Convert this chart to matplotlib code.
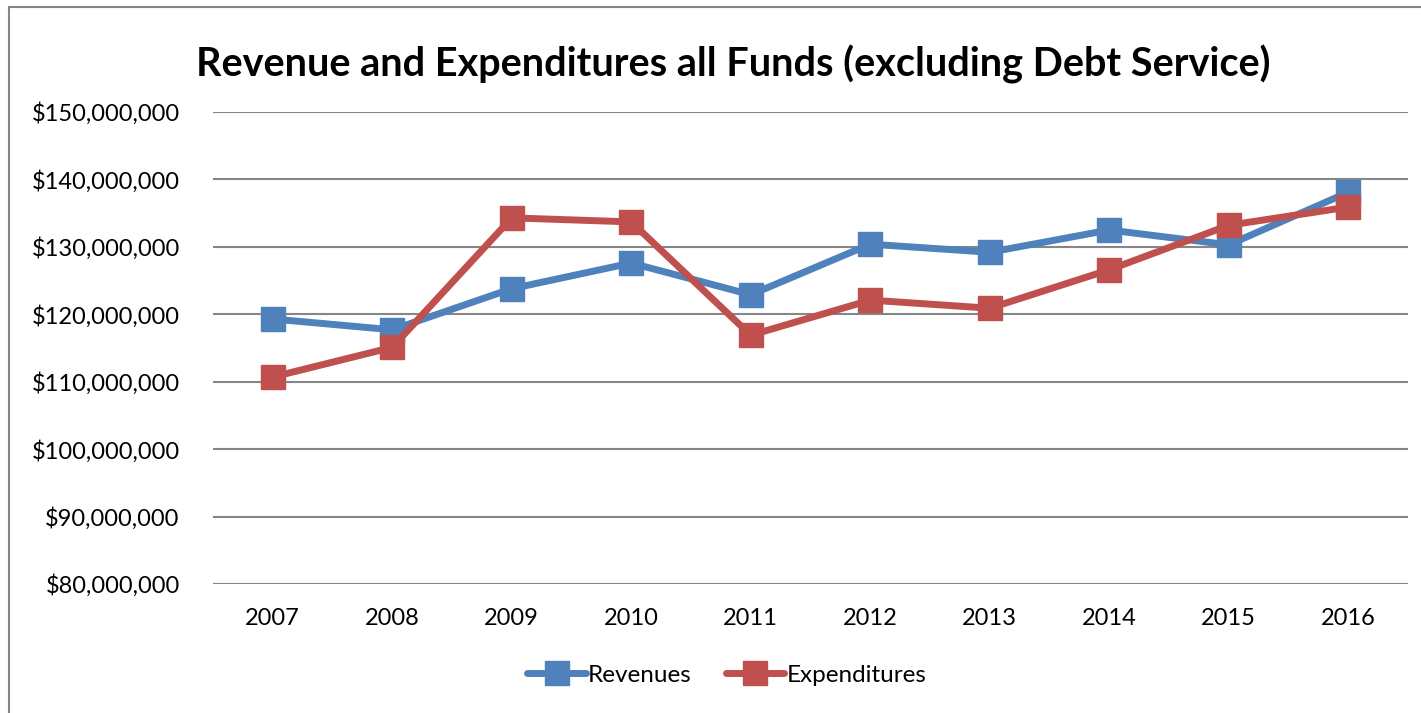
import matplotlib.pyplot as plt
from matplotlib.patches import Rectangle
from matplotlib.ticker import FuncFormatter

years = ['2007', '2008', '2009', '2010', '2011', '2012', '2013', '2014', '2015', '2016']
revenues = [119.3, 117.7, 123.8, 127.6, 122.9, 130.4, 129.2, 132.5, 130.3, 138.1]
expenditures = [110.7, 115.1, 134.3, 133.7, 116.9, 122.1, 120.9, 126.6, 133.2, 135.9]
revenues = [v * 1e6 for v in revenues]
expenditures = [v * 1e6 for v in expenditures]

plt.rcParams['font.family'] = ['Lato', 'DejaVu Sans']

fig = plt.figure(figsize=(14.21, 7.13), dpi=100)
ax = fig.add_axes([213 / 1421, 1 - 584 / 713, (1408 - 213) / 1421, (584 - 112) / 713])

x = range(len(years))
ax.plot(x, revenues, color='#4F81BD', lw=5, marker='s', ms=17, solid_capstyle='round',
        label='Revenues')
ax.plot(x, expenditures, color='#C0504D', lw=5, marker='s', ms=17, solid_capstyle='round',
        label='Expenditures')

ax.set_xlim(-0.5, len(years) - 0.5)
ax.set_ylim(80e6, 150e6)
ax.set_yticks([80e6 + i * 10e6 for i in range(8)])
ax.yaxis.set_major_formatter(FuncFormatter(lambda v, p: '${:,.0f}'.format(v)))
ax.set_xticks(list(x))
ax.set_xticklabels(years)
ax.grid(axis='y', color='#868686', lw=1.5)
ax.set_axisbelow(True)
for s in ['top', 'right', 'left', 'bottom']:
    ax.spines[s].set_visible(False)
ax.tick_params(length=0, labelsize=17)
ax.tick_params(axis='y', pad=24)
ax.tick_params(axis='x', pad=17)

fig.text(733 / 1421, 1 - 64 / 713, 'Revenue and Expenditures all Funds (excluding Debt Service)',
         ha='center', va='center', fontsize=28.5, fontweight='bold')

fig.legend(loc='center', bbox_to_anchor=(727 / 1421, 1 - 675 / 713), ncol=2, frameon=False,
           fontsize=17.5, handlelength=2.4, columnspacing=1.4, handletextpad=0.1)

fig.patches.append(Rectangle((9 / 1421, -0.05), 1.1, 1.05 - 7 / 713, transform=fig.transFigure,
                             fill=False, edgecolor='#868686', lw=1.5))

fig.savefig('out.png', dpi=100)
